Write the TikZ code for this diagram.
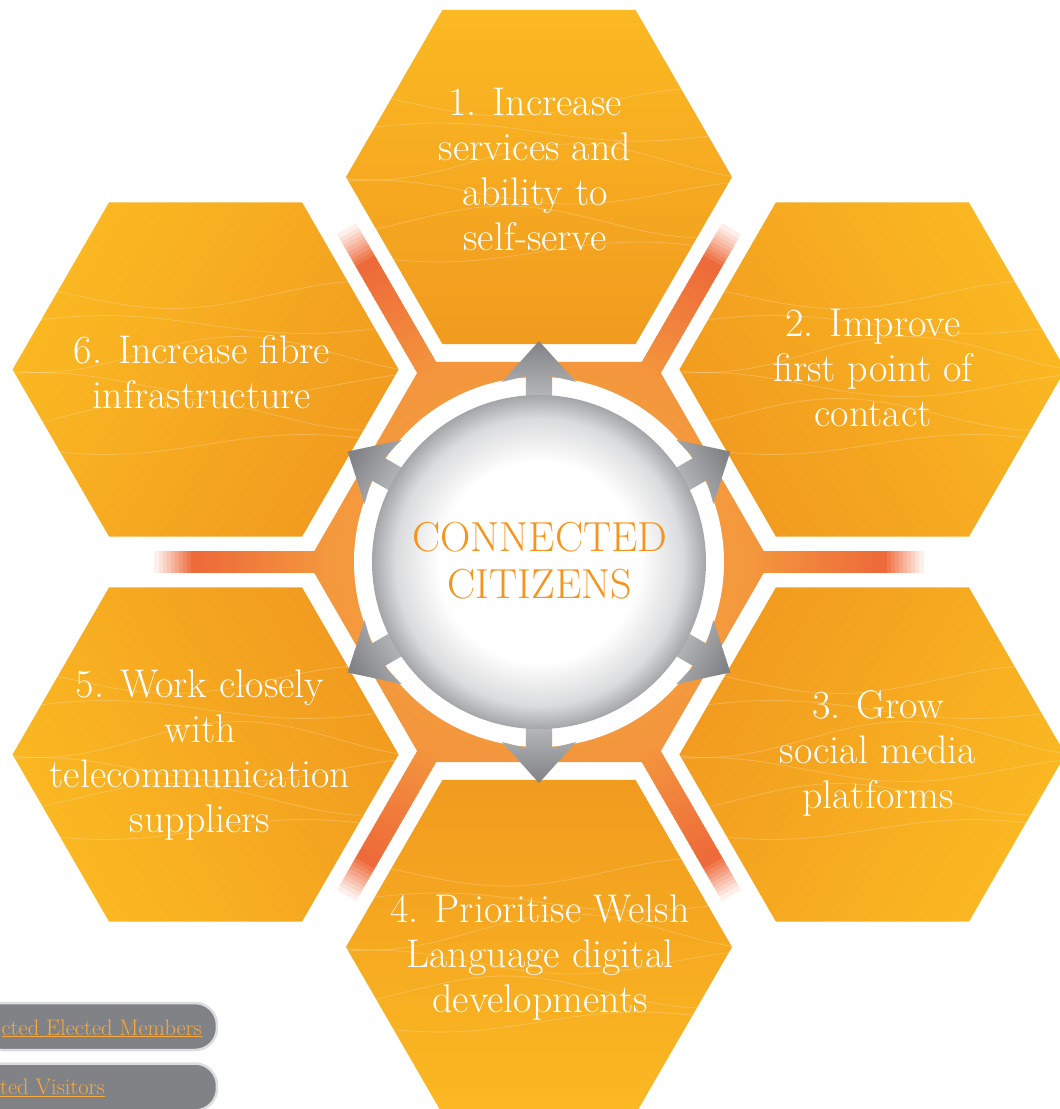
\documentclass[tikz,border=0pt]{standalone}
\usepackage{tikz}
\usetikzlibrary{shapes.geometric, positioning}
\definecolor{hexYellow}{HTML}{FBB922}
\definecolor{hexOrange}{HTML}{F19B1F}
\definecolor{hubLight}{HTML}{F9AC3B}
\definecolor{hubDark}{HTML}{F3963D}
\definecolor{spokeRed}{HTML}{EE6A3A}
\definecolor{arrowLight}{HTML}{C4C5C7}
\definecolor{arrowDark}{HTML}{808285}
\definecolor{ballGrey}{HTML}{A3A5A8}
\definecolor{titleOrange}{HTML}{F7941D}
\definecolor{btnGrey}{HTML}{808285}
\definecolor{btnEdge}{HTML}{DCDDDF}
\definecolor{linkOrange}{HTML}{F9A93B}
\pgfdeclareradialshading{coreshade}{\pgfpoint{0bp}{0bp}}{color(0bp)=(white); color(15bp)=(white); color(21.5bp)=(ballGrey!40); color(25bp)=(ballGrey); color(50bp)=(ballGrey)}
\tikzstyle{hexcell} = [regular polygon, regular polygon sides=6, minimum size=386pt, inner sep=0pt,
                       top color=hexYellow, bottom color=hexOrange,
                       path picture={
                         \begin{scope}[shift={(path picture bounding box.center)}]
                           \foreach \off/\amp/\ph in {-75/10/0, -45/16/120, -15/12/240, 15/18/60, 45/9/180, 75/14/300}
                             \draw[white, opacity=0.22, line width=0.8pt] plot[domain=-200:200, samples=30, smooth] (\x, {\off + \amp*sin(0.9*\x + \ph)});
                         \end{scope}}]
\tikzstyle{hub} = [regular polygon, regular polygon sides=6, minimum size=462pt, inner sep=0pt,
                   inner color=hubLight, outer color=hubDark]
\tikzstyle{hexlabel} = [text=white, align=center, font=\fontsize{40}{45}\selectfont]
\tikzstyle{title} = [text=titleOrange, align=center, font=\fontsize{42}{47}\selectfont]
\tikzstyle{ring} = [circle, fill=white, minimum size=370pt, inner sep=0pt]
\tikzstyle{core} = [circle, shading=coreshade, minimum size=334pt, inner sep=0pt]
\tikzstyle{pointer} = [top color=arrowDark, bottom color=arrowLight]
\tikzstyle{navbtn} = [rectangle, rounded corners=22pt, fill=btnGrey, draw=btnEdge, line width=2.5pt,
                      minimum width=238pt, minimum height=47pt]
\tikzstyle{navlink} = [text=linkOrange, font=\fontsize{22.5}{26}\selectfont, anchor=base east, inner sep=0pt]

\begin{document}
\begin{tikzpicture}[x=1pt, y=1pt]
	\useasboundingbox (-539, -547) rectangle (521, 562);
	\fill[white] (-539, -547) rectangle (521, 562);

	% orange hub behind the circle
	\node (Hub) [hub] at (0, 0) {};

	% spokes between the cells
	\foreach \a in {0, 60, ..., 300} {
		\foreach \r in {214, 219, ..., 339} {
			\pgfmathtruncatemacro{\p}{(\r - 214) / 1.25}
			\fill[spokeRed!\p!hubDark, rotate=\a] (\r, -11) rectangle (\r + 6, 11);
		}
		\foreach \r in {344, 348, ..., 380} {
			\pgfmathtruncatemacro{\p}{(\r - 344) * 2.5}
			\fill[white!\p!spokeRed, rotate=\a] (\r, -11) rectangle (\r + 5, 11);
		}
	}

	% the six cells
	\node (Cell1) [hexcell, shading angle=0] at (90:385) {};
	\node (Cell2) [hexcell, shading angle=-60] at (30:385) {};
	\node (Cell3) [hexcell, shading angle=-120] at (-30:385) {};
	\node (Cell4) [hexcell, shading angle=180] at (-90:385) {};
	\node (Cell5) [hexcell, shading angle=120] at (210:385) {};
	\node (Cell6) [hexcell, shading angle=60] at (150:385) {};

	% white ring, arrows and the centre
	\node (Ring) [ring] at (0, 0) {};
	\foreach \a [evaluate=\a as \s using \a - 90] in {90, 30, -30, -90, 210, 150}
		\shade[pointer, shading angle=\s] ({\a + 4.95}:150.6) -- ({\a + 4}:186.5) -- ({\a + 11.6}:183.8)
			-- (\a:221) -- ({\a - 11.6}:183.8) -- ({\a - 4}:186.5) -- ({\a - 4.95}:150.6) -- cycle;
	\node (Core) [core] at (0, 0) {};
	\node (Title) [title] at (1, 1) {CONNECTED\\CITIZENS};

	% labels
	\node (Label1) [hexlabel] at (-4, 392) {1. Increase\\services and\\ability to\\self-serve};
	\node (Label2) [hexlabel] at (334, 194) {2. Improve\\first point of\\contact};
	\node (Label3) [hexlabel] at (339, -191) {3. Grow\\social media\\platforms};
	\node (Label4) [hexlabel] at (1, -396) {4. Prioritise Welsh\\Language digital\\developments};
	\node (Label5) [hexlabel] at (-339, -193) {5. Work closely\\with\\telecommunication\\suppliers};
	\node (Label6) [hexlabel] at (-337, 190) {6. Increase fibre\\infrastructure};

	% buttons
	\node (BtnMembers) [navbtn] at (-441, -464.5) {};
	\node (LinkMembers) [navlink] at (-337, -473) {\underline{cted Elected Members}};
	\node (BtnVisitors) [navbtn] at (-441, -525) {};
	\node (LinkVisitors) [navlink] at (-434, -532) {\underline{cted Visitors}};
\end{tikzpicture}
\end{document}
